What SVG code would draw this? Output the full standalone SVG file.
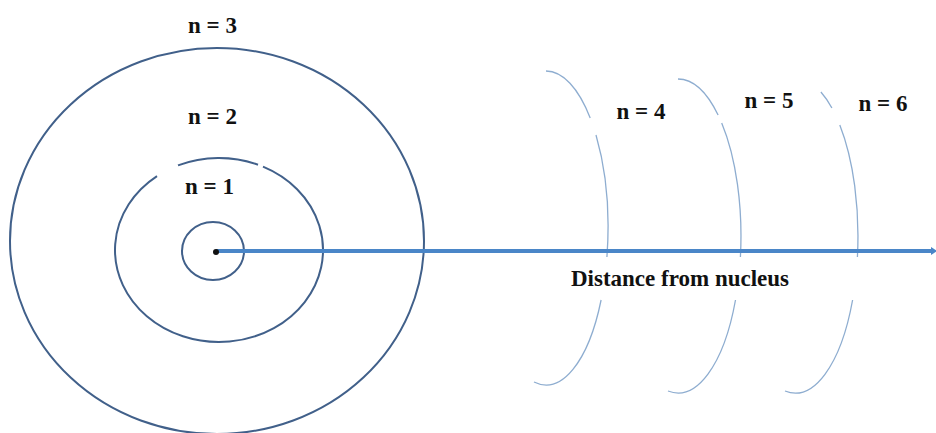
<svg xmlns="http://www.w3.org/2000/svg" width="936" height="433" viewBox="0 0 936 433">
<defs>
<style>
.orbit{fill:none;stroke:#41608a;stroke-width:2}
.shell{fill:none;stroke:#8eadd0;stroke-width:1.3}
.lbl{font-family:"Liberation Serif","Times New Roman",serif;font-weight:bold;font-size:23px;fill:#111;text-anchor:middle}
</style>
<marker id="ah" markerWidth="1.5" markerHeight="2" refX="0" refY="1" orient="auto" markerUnits="strokeWidth">
<path d="M0,0 L1.5,1 L0,2 z" fill="#4a86c8"/>
</marker>
</defs>
<rect width="936" height="433" fill="#fff"/>
<g id="n3">
<ellipse class="orbit" cx="217" cy="241" rx="207" ry="193"/>
<text class="lbl" x="212.5" y="33">n = 3</text>
</g>
<g id="n2">
<path class="orbit" d="M178,165.4 A104,92 0 0 1 258,164.7"/>
<path class="orbit" d="M263,166.6 A104,92 0 1 1 157,176.1"/>
<text class="lbl" x="212.5" y="124">n = 2</text>
</g>
<g id="n1">
<ellipse class="orbit" cx="213" cy="251" rx="31" ry="29"/>
<text class="lbl" x="209.5" y="194">n = 1</text>
</g>
<g id="n4">
<path class="shell" d="M546,71 A62,157 0 0 1 590.2,118"/>
<path class="shell" d="M596,135 A62,157 0 0 1 606.9,257"/>
<path class="shell" d="M601.1,300 A62,157 0 0 1 534,382"/>
<text class="lbl" x="641" y="119">n = 4</text>
</g>
<g id="n5">
<path class="shell" d="M678,79 A63,157 0 0 1 718.1,115"/>
<path class="shell" d="M721.7,123 A63,157 0 0 1 740.4,257"/>
<path class="shell" d="M735.5,300 A63,157 0 0 1 668,391"/>
<text class="lbl" x="769" y="108">n = 5</text>
</g>
<g id="n6">
<path class="shell" d="M820.9,92 A63,158 0 0 1 831.9,108"/>
<path class="shell" d="M839.8,125 A63,158 0 0 1 857.4,257"/>
<path class="shell" d="M852.6,300 A63,158 0 0 1 785,391"/>
<text class="lbl" x="883" y="111">n = 6</text>
</g>
<g id="connectors">
<line x1="216" y1="251" x2="931" y2="251" stroke="#4a86c8" stroke-width="4" marker-end="url(#ah)"/>
</g>
<g id="nucleus">
<circle cx="216" cy="252" r="3" fill="#111"/>
</g>
<g id="axis-label">
<text class="lbl" x="680" y="286">Distance from nucleus</text>
</g>
</svg>
